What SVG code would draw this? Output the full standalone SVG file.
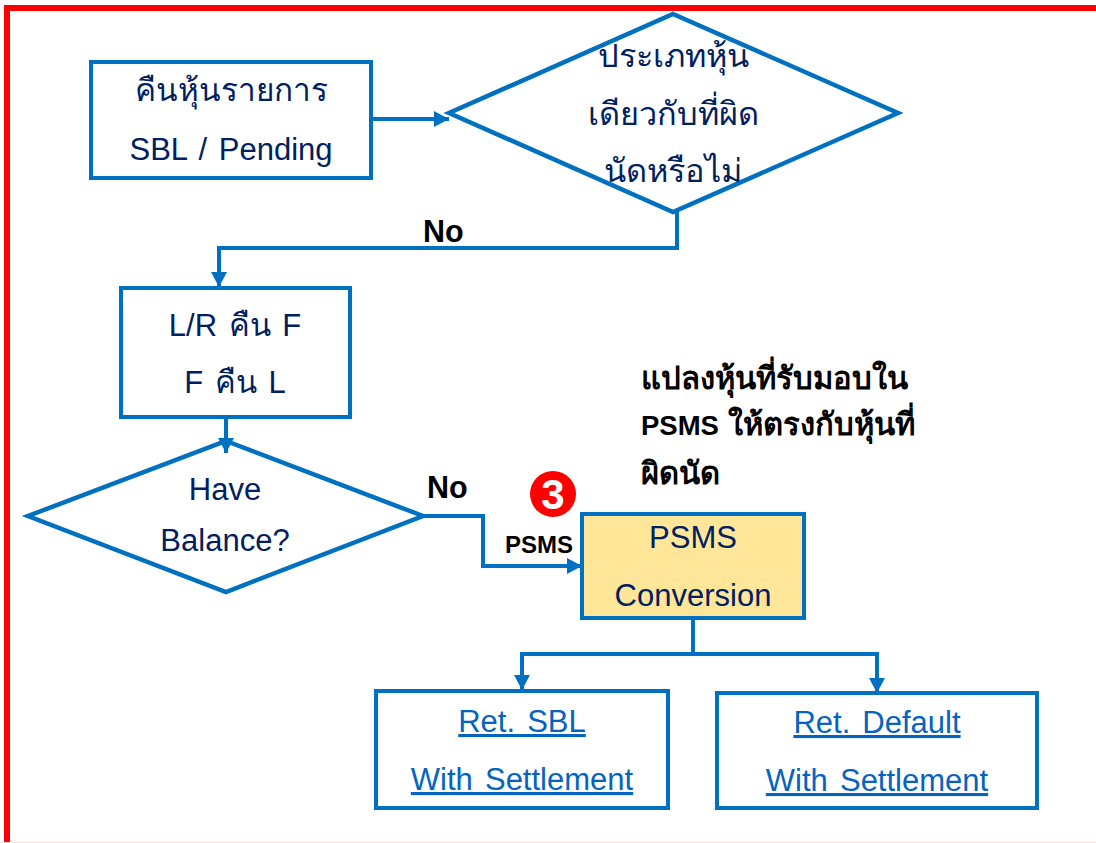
<svg xmlns="http://www.w3.org/2000/svg" width="1096" height="843" viewBox="0 0 1096 843">
<defs>
<marker id="arrow" markerUnits="userSpaceOnUse" markerWidth="17" markerHeight="18" refX="15" refY="9" orient="auto"><path d="M0,1 L15,9 L0,17 Z" fill="#0070c0"/></marker>
</defs>
<style>
.box{fill:#fff;stroke:#0070c0;stroke-width:4}
.dia{fill:#fff;stroke:#0070c0;stroke-width:4.5}
.conn{fill:none;stroke:#0070c0;stroke-width:4;marker-end:url(#arrow)}
.plain{fill:none;stroke:#0070c0;stroke-width:4}
text{font-family:"Liberation Sans",Arial,sans-serif}
.t{font-size:31px;fill:#002060;text-anchor:middle;word-spacing:3px}
.th{font-size:32.5px}
.l{font-size:31px;fill:#0563c1;text-anchor:middle;text-decoration:underline;word-spacing:3.5px}
.b{font-weight:bold;fill:#000}
</style>
<rect width="1096" height="843" fill="#fff"/>
<path d="M7,843 V8 H1096" fill="none" stroke="#ff0000" stroke-width="6"/>
<rect x="0" y="842" width="1096" height="1" fill="#ffe0e0"/>
<g id="n1"><rect class="box" x="91" y="62" width="280" height="116"/><text class="t" x="231" y="101" font-size="31.5" style="font-size:31.5px">คืนหุ้นรายการ</text><text class="t" x="231" y="160">SBL / Pending</text></g>
<g id="n2"><polygon class="dia" points="673,14 898,113 673,212 449,113"/><text class="t th" x="673" y="67">ประเภทหุ้น</text><text class="t th" x="673" y="125">เดียวกับที่ผิด</text><text class="t th" x="673" y="182">นัดหรือไม่</text></g>
<g id="n3"><rect class="box" x="121" y="288" width="229" height="129"/><text class="t" x="235" y="336">L/R คืน F</text><text class="t" x="235" y="393">F คืน L</text></g>
<g id="n4"><polygon class="dia" points="226,441 423,516 226,592 28,516"/><text class="t" x="225" y="500">Have</text><text class="t" x="225" y="551">Balance?</text></g>
<g id="n5"><rect x="582" y="514" width="222" height="104" fill="#ffe699" stroke="#0070c0" stroke-width="4"/><text class="t" x="693" y="548">PSMS</text><text class="t" x="693" y="606">Conversion</text></g>
<g id="n6"><rect class="box" x="376" y="691" width="292" height="117"/><text class="l" x="522" y="732">Ret. SBL</text><text class="l" x="522" y="790">With Settlement</text></g>
<g id="n7"><rect class="box" x="717" y="693" width="320" height="115"/><text class="l" x="877" y="733">Ret. Default</text><text class="l" x="877" y="791">With Settlement</text></g>
<g id="connectors">
<path class="conn" d="M372,119 H449"/>
<path class="conn" d="M677,212 V248 H219 V287"/>
<path class="conn" d="M226,418 V453"/>
<path class="conn" d="M422,516 H483 V566 H582"/>
<path class="plain" d="M693,619 V654"/>
<path class="conn" d="M693,654 H522 V690"/>
<path class="conn" d="M693,654 H877 V693"/>
</g>
<g id="labels">
<text class="b" x="423" y="242" font-size="30.5">No</text>
<text class="b" x="427" y="498" font-size="30.5">No</text>
<text class="b" x="505" y="553" font-size="24">PSMS</text>
<text class="b" x="641" y="389" font-size="31">แปลงหุ้นที่รับมอบใน</text>
<text class="b" x="641" y="435" font-size="31"><tspan font-size="27.5">PSMS</tspan> ให้ตรงกับหุ้นที่</text>
<text class="b" x="641" y="484" font-size="31">ผิดนัด</text>
<circle cx="553" cy="494" r="23" fill="#ff0000"/>
<text x="553" y="509" font-size="42" font-weight="bold" fill="#fff" text-anchor="middle">3</text>
</g>
</svg>
